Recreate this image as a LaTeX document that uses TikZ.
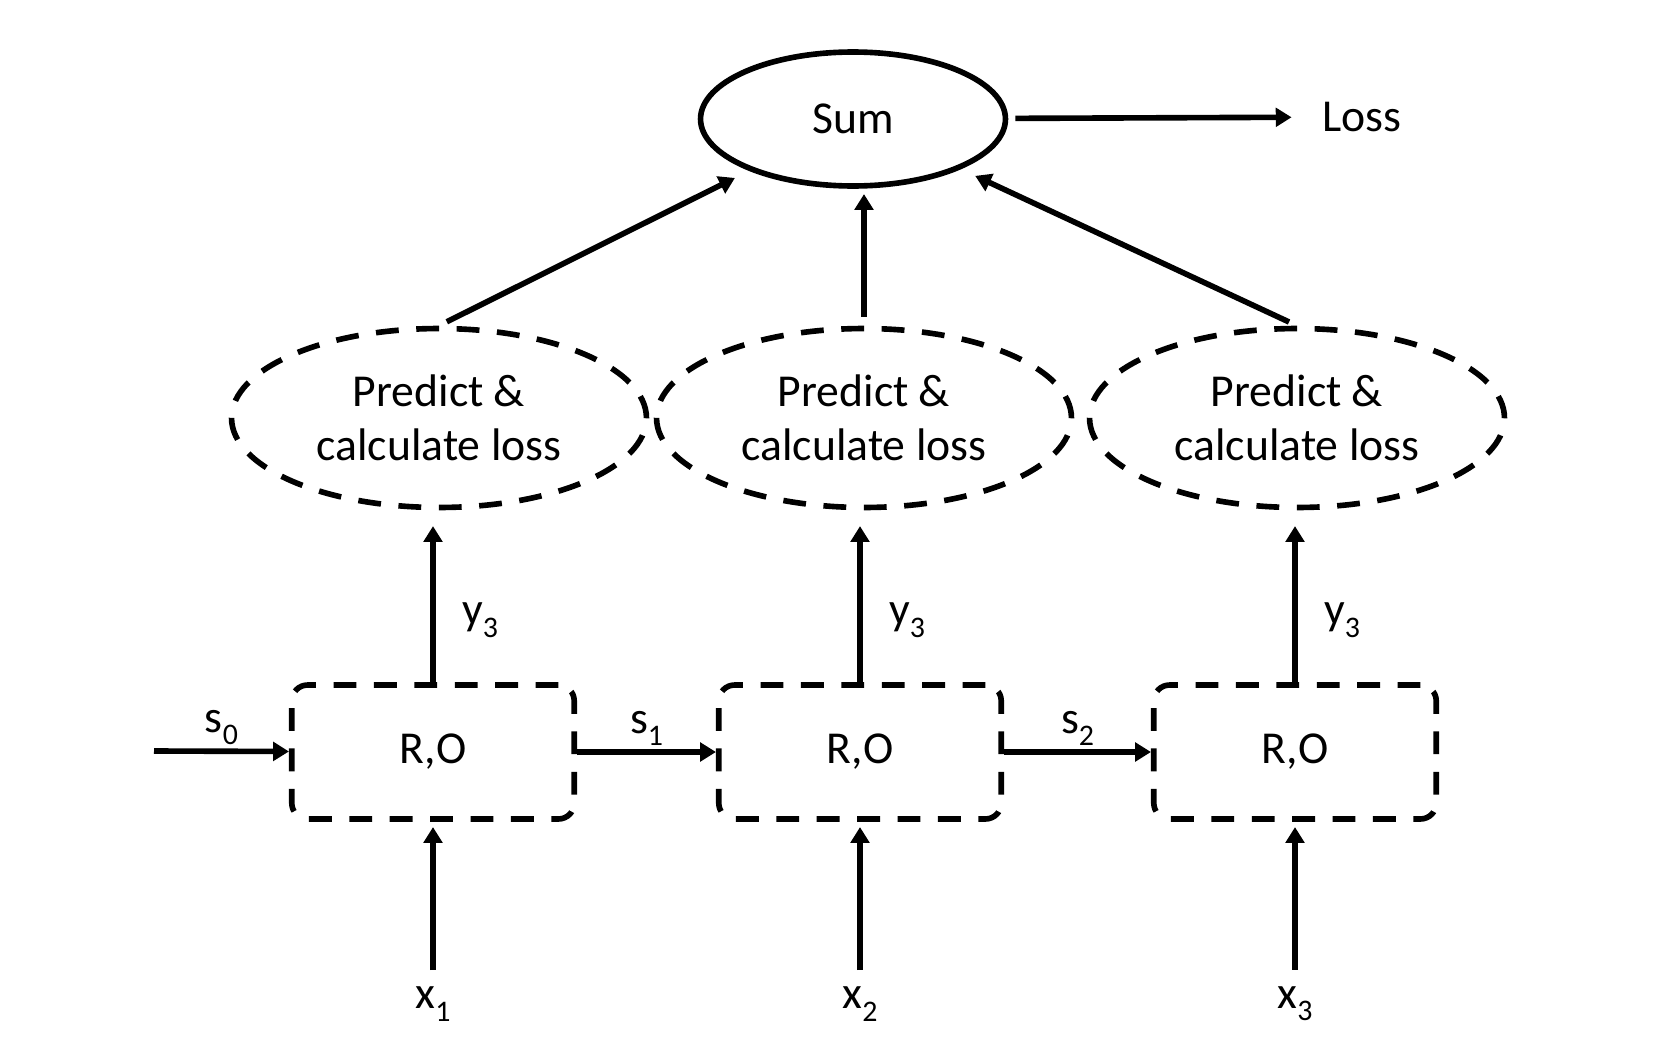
\documentclass[tikz,border=0pt]{standalone}
\usepackage{fontspec}
\setmainfont{Carlito}
\usepackage{tikz}
\usetikzlibrary{shapes,arrows.meta,positioning}

% index set low and large, as in the drawing
\newcommand{\lowsub}[1]{\raisebox{-0.27em}{\fontsize{17}{18}\selectfont #1}}

\begin{document}
\begin{tikzpicture}[x=0.02cm, y=-0.02cm, line width=3.2pt,
        txt/.style={font=\fontsize{26}{31}\selectfont, inner sep=2pt},
        sumnode/.style={txt, ellipse, draw, minimum width=6.1cm, minimum height=2.68cm},
        prednode/.style={txt, ellipse, draw, dashed box, align=center, inner sep=0pt,
            minimum width=8.3cm, minimum height=3.58cm},
        rnnbox/.style={txt, rectangle, draw, dashed box, rounded corners=9pt,
            minimum width=5.65cm, minimum height=2.68cm},
        dashed box/.style={dash pattern=on 13pt off 10pt},
        arr/.style={-{Triangle[length=9pt,width=10.5pt]}}]
    \useasboundingbox (0,0) rectangle (1670,1041);

    % Sum and total loss
    \node[sumnode] (sum) at (853,119) {Sum};
    \node[txt] (loss) at (1362,117) {Loss};
    \draw[arr, shorten <=4pt, shorten >=14pt] (sum) -- (loss);

    % Unrolled steps
    \foreach \i/\bx/\px in {1/433/439, 2/860/864, 3/1295/1297} {
        \node[rnnbox] (ro\i) at (\bx,752) {R,O};
        \node[prednode] (pr\i) at (\px,418) {Predict \&\\calculate loss};
        \node[txt] (x\i) at (\bx,1004) {x\lowsub{\i}};
        \draw[arr, shorten <=6pt, shorten >=3pt] (x\i) -- (ro\i);
        \draw[arr, shorten >=9pt] (ro\i) -- (ro\i |- pr\i.south)
            node[txt, pos=0.36, right=13pt] {y\lowsub{3}};
    }

    % Hidden state
    \coordinate (s0) at (154,751);
    \draw[arr] (s0) -- (ro1) node[txt, midway, above] {s\lowsub{0}};
    \draw[arr] (ro1) -- (ro2) node[txt, midway, above] {s\lowsub{1}};
    \draw[arr] (ro2) -- (ro3) node[txt, midway, above] {s\lowsub{2}};

    % Losses into sum
    \draw[arr, shorten <=5pt, shorten >=9pt] (pr1.north) -- (sum);
    \draw[arr, shorten <=5pt, shorten >=3pt] (pr2.north) -- (pr2.north |- sum.south);
    \draw[arr, shorten <=5pt, shorten >=9pt] (pr3.north) -- (sum);
\end{tikzpicture}
\end{document}
